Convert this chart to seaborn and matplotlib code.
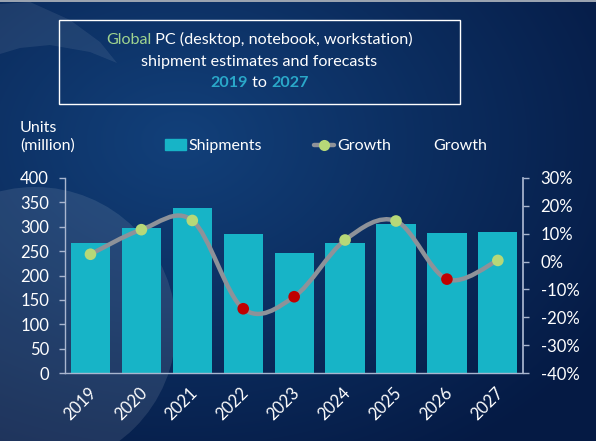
import numpy as np
import pandas as pd
import matplotlib
matplotlib.use("Agg")
import matplotlib.pyplot as plt
import seaborn as sns
from matplotlib.patches import Rectangle, Circle, Polygon, Patch, PathPatch
from matplotlib.lines import Line2D
from matplotlib.path import Path
from matplotlib.transforms import ScaledTranslation

years = ['2019', '2020', '2021', '2022', '2023', '2024', '2025', '2026', '2027']
shipments = [266, 297, 339, 284, 247, 266, 305, 286, 288]   # million units
growth = [2.6, 11.4, 14.7, -16.9, -12.6, 7.7, 14.5, -6.3, 0.4]  # percent
left_ticks = [0, 50, 100, 150, 200, 250, 300, 350, 400]
right_ticks = [-40, -30, -20, -10, 0, 10, 20, 30]

bar_col = '#17b4c7'
line_col = '#8e9299'
pos_col = '#b6d878'
neg_col = '#c00000'
spine_col = '#a9b6cf'
txt = 'white'

sns.set_theme(style='white')
plt.rcParams['font.family'] = ['Lato', 'DejaVu Sans']

W, H = 596, 441
fig = plt.figure(figsize=(W / 100, H / 100), dpi=100)

# background
bg = fig.add_axes([0, 0, 1, 1])
bg.set_axis_off()
yy, xx = np.mgrid[0:H, 0:W]
d = np.hypot((xx - 180) / W, (yy - 140) / H)
t = np.clip(d / 0.85, 0, 1)[..., None]
c0 = np.array([0x12, 0x40, 0x7a]) / 255
c1 = np.array([0x05, 0x1a, 0x44]) / 255
bg.imshow(c0 * (1 - t) + c1 * t, extent=[0, W, H, 0], aspect='auto')
bg.set_xlim(0, W)
bg.set_ylim(H, 0)
bg.add_patch(Circle((35, 328), 141, color='white', alpha=0.1, lw=0))
bg.add_patch(Polygon([(0, 4), (30, 2), (70, 20), (100, 42), (117, 63), (90, 52),
                      (50, 45), (20, 48), (0, 54)], closed=True, color='white',
                     alpha=0.08, lw=0))
bg.add_patch(Rectangle((0, 0), W, 1.5, color='#9aa3b0', lw=0))
bg.add_patch(Rectangle((59, 20), 401, 84, fill=False, ec='white', lw=1))

# title with coloured words
def colored_line(parts, xc, y, size):
    first = bg.text(0, y, parts[0][0], color=parts[0][1], fontsize=size,
                    fontweight=parts[0][2], va='center', ha='left')
    items = [first]
    prev = first
    for s, c, w in parts[1:]:
        prev = bg.annotate(s, xy=(1, 0), xycoords=prev, va='bottom', ha='left',
                           color=c, fontsize=size, fontweight=w)
        items.append(prev)
    r = fig.canvas.get_renderer()
    x0 = items[0].get_window_extent(r).x0
    x1 = items[-1].get_window_extent(r).x1
    first.set_x(xc - (x1 - x0) / 2)

fig.canvas.draw()
tsize = 11.6
colored_line([('Global', '#9fd38f', 'normal'),
              (' PC (desktop, notebook, workstation)', txt, 'normal')], 259.5, 40, tsize)
colored_line([('shipment estimates and forecasts', txt, 'normal')], 259.5, 62, tsize)
colored_line([('2019', '#2aa8c9', 'bold'), (' to ', txt, 'normal'),
              ('2027', '#2aa8c9', 'bold')], 259.5, 83, tsize)

# main axes
ax = fig.add_axes([65 / W, 1 - 373.3 / H, (523.3 - 65) / W, (373.3 - 177.7) / H])
ax.patch.set_alpha(0)
df = pd.DataFrame({'year': years, 'shipments': shipments, 'growth': growth})
sns.barplot(data=df, x='year', y='shipments', color=bar_col, saturation=1,
            width=0.77, linewidth=0, edgecolor='none', ax=ax, zorder=2)
ax.set_ylim(0, 400)
ax.set_xlim(-0.5, len(years) - 0.5)
ax.set_yticks(left_ticks)
ax.set_xlabel('')
ax.set_ylabel('')
for s in ['top', 'right']:
    ax.spines[s].set_visible(False)
for s in ['left', 'bottom']:
    ax.spines[s].set_visible(True)
    ax.spines[s].set_color(spine_col)
    ax.spines[s].set_linewidth(1)
ax.tick_params(axis='y', length=4, width=1, color=spine_col, labelcolor=txt,
               labelsize=12, pad=7.5, left=True)
ax.tick_params(axis='x', length=0, labelcolor=txt, labelsize=12, pad=12)
for lab in ax.get_xticklabels():
    lab.set_rotation(45)
    lab.set_ha('right')
    lab.set_va('center')
    lab.set_rotation_mode('anchor')
    lab.set_transform(lab.get_transform() + ScaledTranslation(3 / 100, 0, fig.dpi_scale_trans))

ax2 = ax.twinx()
ax2.patch.set_alpha(0)
ax2.set_ylim(-40, 30)
ax2.set_yticks(right_ticks)
ax2.set_yticklabels([f'{v}%' for v in right_ticks])
for s in ['top', 'left', 'bottom']:
    ax2.spines[s].set_visible(False)
ax2.spines['right'].set_visible(True)
ax2.spines['right'].set_color(spine_col)
ax2.grid(False)
ax.grid(False)
ax2.tick_params(axis='y', length=4, width=1, color=spine_col, labelcolor=txt,
                labelsize=12, pad=8.5, right=True)

# smoothed growth line (Catmull-Rom as cubic Bezier)
xs = np.arange(len(years), dtype=float)
pts = np.column_stack([xs, growth])
ext = np.vstack([pts[0], pts, pts[-1]])
verts = [tuple(pts[0])]
codes = [Path.MOVETO]
for i in range(len(pts) - 1):
    p0, p1, p2, p3 = ext[i], ext[i + 1], ext[i + 2], ext[i + 3]
    verts += [tuple(p1 + (p2 - p0) / 6), tuple(p2 - (p3 - p1) / 6), tuple(p2)]
    codes += [Path.CURVE4] * 3
ax2.add_patch(PathPatch(Path(verts, codes), fill=False, ec=line_col, lw=3.2,
                        capstyle='round', zorder=3))
df['pos'] = xs
df['sign'] = np.where(df['growth'] < 0, 'neg', 'pos')
sns.scatterplot(data=df, x='pos', y='growth', hue='sign',
                palette={'neg': neg_col, 'pos': pos_col}, s=70, edgecolor='none',
                legend=False, ax=ax2, zorder=4)
ax2.set_xlabel('')
ax2.set_ylabel('')
ax2.set_xlim(-0.5, len(years) - 0.5)

# legend and axis captions
handles = [Patch(color=bar_col, label='Shipments'),
           Line2D([], [], color=line_col, lw=3.2, marker='o', markersize=8,
                  markerfacecolor=pos_col, markeredgecolor='none', label='Growth')]
leg = fig.legend(handles=handles, loc='center left', bbox_to_anchor=(165 / W, 1 - 146 / H),
                 ncol=2, frameon=False, fontsize=11.5, handlelength=1.3,
                 handletextpad=0.2, columnspacing=3.2, borderpad=0, borderaxespad=0)
for tx in leg.get_texts():
    tx.set_color(txt)
bg.text(20, 137, 'Units\n(million)', color=txt, fontsize=11.5, va='center', ha='left',
        linespacing=1.25)
bg.text(433, 146, 'Growth', color=txt, fontsize=11.5, va='center', ha='left')

fig.savefig('out.png', dpi=100)
